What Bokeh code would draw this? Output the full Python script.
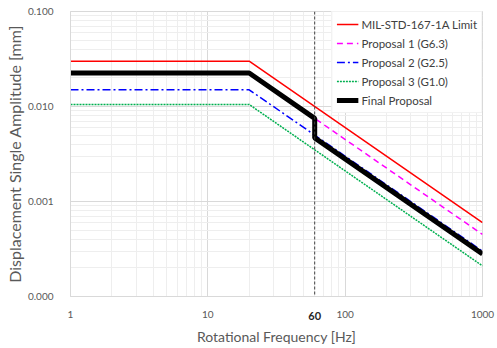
from bokeh.plotting import figure
from bokeh.models import FixedTicker, PrintfTickFormatter, Span, Legend, LogAxis
from bokeh.embed import file_html
from bokeh.resources import INLINE

# ---- data ----
freq_std = [1, 20, 1000]
mil_std = [0.03, 0.03, 0.0006]
prop1 = [0.0225, 0.0225, 0.00045]
prop2 = [0.015, 0.015, 0.0003]
prop3 = [0.0105, 0.0105, 0.00021]
freq_final = [1, 20, 60, 60, 1000]
final = [0.0225, 0.0225, 0.0075, 0.00467, 0.00028]
marker_freq = 60

x_ticks = [1, 10, 100, 1000]
y_ticks = [0.0001, 0.001, 0.01, 0.1]

FONT = "Lato"
GRAY = "#595959"

p = figure(width=497, height=348, x_axis_type="log", y_axis_type="log",
           x_range=(1, 1000), y_range=(0.0001, 0.1),
           output_backend="svg", toolbar_location=None,
           min_border_left=70, min_border_right=15, min_border_top=11, min_border_bottom=52)
p.outline_line_color = "#d9d9d9"
p.background_fill_color = "white"

x_minor = [m * 10 ** e for e in range(0, 3) for m in range(2, 10)]
y_minor = [m * 10 ** e for e in range(-4, -1) for m in range(2, 10)]
p.xaxis.ticker = FixedTicker(ticks=x_ticks, minor_ticks=x_minor)
p.yaxis.ticker = FixedTicker(ticks=y_ticks, minor_ticks=y_minor)
p.xaxis.formatter = PrintfTickFormatter(format="%d")
p.yaxis.formatter = PrintfTickFormatter(format="%.3f")

for ax in (p.xaxis, p.yaxis):
    ax.axis_line_color = "#d9d9d9"
    ax.major_tick_line_color = None
    ax.minor_tick_line_color = None
    ax.major_label_text_font = FONT
    ax.major_label_text_font_size = "10px"
    ax.major_label_text_color = GRAY
    ax.axis_label_text_font = FONT
    ax.axis_label_text_font_style = "normal"
    ax.axis_label_text_color = GRAY

p.yaxis.axis_label = "Displacement Single Amplitude [mm]"
p.yaxis.axis_label_text_font_size = "16px"
p.xaxis.major_label_standoff = 8
p.yaxis.major_label_standoff = 11
p.yaxis.axis_label_standoff = 1

# second bottom axis: bold "60" marker label and the x-axis title
ax60 = LogAxis(ticker=FixedTicker(ticks=[marker_freq]),
               formatter=PrintfTickFormatter(format="%d"),
               axis_line_color=None, major_tick_line_color=None, minor_tick_line_color=None,
               major_label_standoff=-15, major_label_text_font=FONT,
               major_label_text_font_size="11px", major_label_text_font_style="bold",
               major_label_text_color="#262626",
               axis_label="Rotational Frequency [Hz]", axis_label_standoff=5,
               axis_label_text_font=FONT, axis_label_text_font_size="14px",
               axis_label_text_font_style="normal", axis_label_text_color=GRAY)
p.add_layout(ax60, "below")

p.grid.grid_line_color = "#d9d9d9"
p.grid.minor_grid_line_color = "#eeeeee"

r1 = p.line(freq_std, mil_std, line_color="#ff0000", line_width=1.5)
r2 = p.line(freq_std, prop1, line_color="#ff00ff", line_width=1.5, line_dash="6 4")
r3 = p.line(freq_std, prop2, line_color="#0000ff", line_width=1.5, line_dash="8 3 2 3")
r4 = p.line(freq_std, prop3, line_color="#00b050", line_width=1.5, line_dash="2 1")
r5 = p.line(freq_final, final, line_color="black", line_width=5)

p.add_layout(Span(location=marker_freq, dimension="height", line_color="#404040",
                  line_width=1, line_dash="3 2"))

legend = Legend(items=[("MIL-STD-167-1A Limit", [r1]), ("Proposal 1 (G6.3)", [r2]),
                       ("Proposal 2 (G2.5)", [r3]), ("Proposal 3 (G1.0)", [r4]),
                       ("Final Proposal", [r5])],
                location="top_right", margin=0, padding=4, spacing=3,
                label_height=16, glyph_height=16, glyph_width=22, label_standoff=3,
                label_text_font=FONT, label_text_font_size="11.5px",
                label_text_color="#404040", border_line_color="#e6e6e6",
                background_fill_color="white", background_fill_alpha=1.0)
p.add_layout(legend)

open("out.html", "w").write(file_html(p, INLINE))
